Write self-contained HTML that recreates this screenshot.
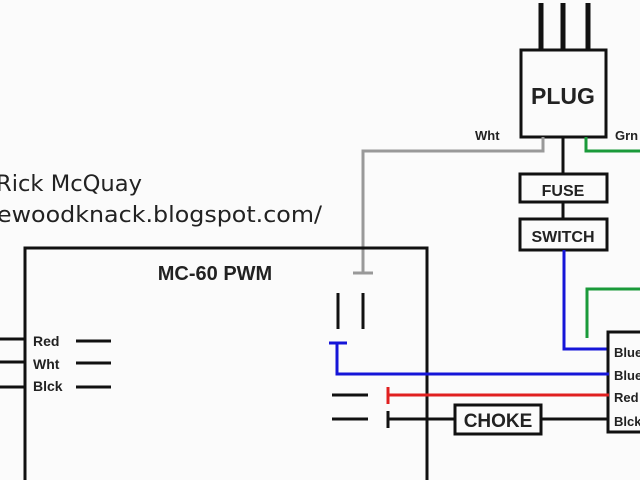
<!DOCTYPE html>
<html><head><meta charset="utf-8"><style>
body{margin:0;background:#fbfbfb;}
svg{display:block}
.b{font-family:"Liberation Sans",sans-serif;font-weight:bold;fill:#222}
.h{font-family:"DejaVu Sans","Liberation Sans",sans-serif;fill:#222}
</style></head><body>
<svg width="640" height="480" viewBox="0 0 640 480">
<rect width="640" height="480" fill="#fbfbfb"/>
<g fill="none" stroke-width="3">
<path d="M541 3V50M563 3V50M588 3V50" stroke="#111" stroke-width="5"/>
<rect x="521" y="50" width="85" height="87" stroke="#111" fill="#fbfbfb"/>
<path d="M543 137V151H363V273M353 273H373" stroke="#999"/>
<path d="M586 137V151H640" stroke="#1a9a3a"/>
<path d="M563 137V175M563 202V219" stroke="#111"/>
<rect x="520" y="174" width="87" height="28" stroke="#111"/>
<rect x="520" y="219" width="87" height="31" stroke="#111"/>
<path d="M564 250V349H609" stroke="#1515d8"/>
<path d="M587 338V289H640" stroke="#1a9a3a"/>
<rect x="608" y="332" width="40" height="100" stroke="#111"/>
<rect x="25" y="248" width="402" height="240" stroke="#111"/>
<path d="M609 374H337V343M329 343H347" stroke="#1515d8"/>
<path d="M338 293V329M363 293V329" stroke="#111"/>
<path d="M388 395H609M388 387V404" stroke="#e02020"/>
<path d="M332 395H368M332 419H368M388 411V428M388 419H455M541 419H609" stroke="#111"/>
<rect x="455" y="405" width="86" height="29" stroke="#111"/>
<path d="M76 341H111M76 363H111M76 387H111M0 339H25M0 362H25M0 387H25" stroke="#111"/>
</g>
<text x="563" y="104" text-anchor="middle" class="b" font-size="23">PLUG</text>
<text x="563" y="196" text-anchor="middle" class="b" font-size="16">FUSE</text>
<text x="563" y="242" text-anchor="middle" class="b" font-size="16">SWITCH</text>
<text x="498" y="427" text-anchor="middle" class="b" font-size="19" fill="#333">CHOKE</text>
<text x="215" y="280" text-anchor="middle" class="b" font-size="20" fill="#111">MC-60 PWM</text>
<text x="475" y="140" class="b" font-size="13">Wht</text>
<text x="615" y="140" class="b" font-size="13">Grn</text>
<text x="33" y="346" class="b" font-size="14" fill="#444">Red</text>
<text x="33" y="369" class="b" font-size="14" fill="#444">Wht</text>
<text x="33" y="391" class="b" font-size="14" fill="#444">Blck</text>
<text x="614" y="357" class="b" font-size="13">Blue</text>
<text x="614" y="380" class="b" font-size="13">Blue</text>
<text x="614" y="402" class="b" font-size="13">Red</text>
<text x="614" y="426" class="b" font-size="13">Blck</text>
<text x="-4" y="191" class="h" font-size="22" textLength="146" lengthAdjust="spacingAndGlyphs">Rick McQuay</text>
<text x="-3" y="222" class="h" font-size="22" textLength="325" lengthAdjust="spacingAndGlyphs">ewoodknack.blogspot.com/</text>
</svg>
</body></html>
